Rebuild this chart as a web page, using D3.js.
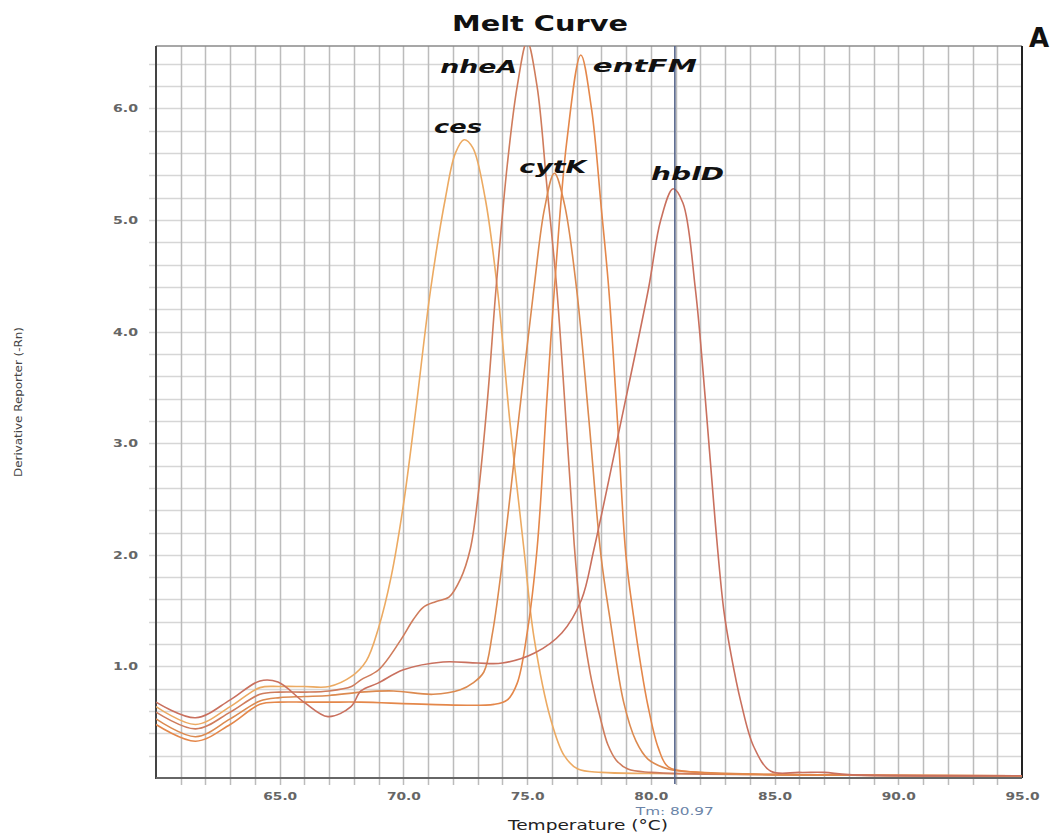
<html>
<head>
  <script src="https://cdn.jsdelivr.net/npm/d3@7"></script>
  <meta charset="UTF-8">
  <style>
  body { margin: 0; background: #fff; }
  svg { display: block; }
  </style>
</head>
<body>
<div id="chart"></div>
<script>

// melt curve data (temperature in °C, derivative reporter)
const genes = ['ces', 'nheA', 'cytK', 'entFM', 'hblD'];

const cesT = [60, 61.6, 63, 64.2, 65, 66, 67, 67.9, 68.5, 69, 69.5, 70.0, 70.5, 71.1, 71.7, 72.1, 72.45, 72.8, 73.3, 73.8, 74.3, 74.87, 75.27, 75.96, 76.5, 77.05, 78, 80, 85, 95];
const cesV = [0.64, 0.48, 0.64, 0.81, 0.82, 0.82, 0.82, 0.91, 1.05, 1.35, 1.8, 2.45, 3.3, 4.38, 5.2, 5.6, 5.72, 5.65, 5.2, 4.38, 3.2, 2.05, 1.27, 0.52, 0.2, 0.08, 0.05, 0.04, 0.03, 0.02];

const nheAT = [60, 61.6, 63, 64.2, 65, 66, 67, 67.9, 68.28, 69, 69.9, 70.4, 70.8, 71.3, 71.84, 72.3, 72.7, 73.0, 73.4, 73.74, 74.2, 74.6, 75.0, 75.4, 75.8, 76.2, 76.6, 76.9, 77.1, 77.35, 77.6, 78.0, 78.26, 78.6, 79.07, 80, 85, 95];
const nheAV = [0.59, 0.44, 0.59, 0.75, 0.77, 0.77, 0.78, 0.82, 0.88, 0.97, 1.24, 1.42, 1.53, 1.58, 1.62, 1.78, 2.05, 2.5, 3.4, 4.38, 5.5, 6.2, 6.6, 6.2, 5.3, 4.38, 3.1, 2.1, 1.6, 1.2, 0.88, 0.5, 0.3, 0.16, 0.08, 0.05, 0.03, 0.02];

const cytKT = [60, 61.6, 63, 64.2, 65, 66, 67, 68.28, 69.6, 71.2, 72.3, 72.8, 73.25, 73.6, 74.06, 74.7, 75.27, 75.7, 76.1, 76.5, 77.0, 77.5, 77.98, 78.38, 78.9, 79.4, 79.88, 80.7, 82, 85, 95];
const cytKV = [0.53, 0.37, 0.53, 0.69, 0.72, 0.73, 0.74, 0.77, 0.78, 0.75, 0.79, 0.85, 0.95, 1.3, 2.05, 3.3, 4.38, 5.1, 5.42, 5.15, 4.38, 3.2, 2.0, 1.38, 0.68, 0.33, 0.17, 0.08, 0.05, 0.03, 0.02];

const entFMT = [60, 61.6, 63, 64.2, 65, 66, 67, 68.28, 71.0, 73.66, 74.2, 74.6, 75.0, 75.4, 75.8, 76.1, 76.6, 77.17, 77.6, 78.0, 78.3, 78.65, 78.99, 79.3, 79.6, 79.88, 80.3, 80.7, 82, 85, 95];
const entFMV = [0.48, 0.33, 0.48, 0.66, 0.68, 0.68, 0.68, 0.68, 0.66, 0.66, 0.7, 0.85, 1.3, 2.05, 3.4, 4.38, 5.7, 6.48, 6.0, 5.1, 4.38, 3.2, 2.0, 1.45, 1.0, 0.65, 0.27, 0.1, 0.05, 0.03, 0.02];

const hblDT = [60, 61.6, 63, 64.2, 64.93, 65.98, 66.95, 67.88, 68.28, 68.97, 70.0, 71.6, 73.0, 74.0, 75.3, 76.4, 77.2, 77.7, 78.8, 79.9, 80.4, 80.9, 81.3, 81.8, 82.2, 82.6, 82.95, 83.23, 83.64, 84.16, 84.85, 86, 87, 88, 95];
const hblDV = [0.68, 0.54, 0.7, 0.87, 0.86, 0.68, 0.55, 0.64, 0.78, 0.85, 0.97, 1.04, 1.03, 1.03, 1.12, 1.3, 1.6, 2.05, 3.2, 4.38, 5.0, 5.28, 5.15, 4.38, 3.4, 2.3, 1.5, 1.12, 0.68, 0.28, 0.06, 0.05, 0.05, 0.03, 0.02];

const seriesT = [cesT, nheAT, cytKT, entFMT, hblDT];
const seriesV = [cesV, nheAV, cytKV, entFMV, hblDV];
const colors = ['#ecaa62', '#cf7c5c', '#dc8a50', '#e4874a', '#c9705e'];

const xTicks = [65, 70, 75, 80, 85, 90, 95];
const yTicks = [1, 2, 3, 4, 5, 6];
const tm = 80.97;

const W = 1063, H = 835;
const pLeft = 156, pRight = 1022, pTop = 46, pBottom = 778;

const x = d3.scaleLinear().domain([60, 95]).range([pLeft, pRight]);
const y = d3.scaleLinear().domain([0, 6.56]).range([pBottom, pTop]);

const svg = d3.select('#chart').append('svg')
  .attr('width', W)
  .attr('height', H);

svg.append('defs').append('clipPath').attr('id', 'plotClip')
  .append('rect')
    .attr('x', pLeft).attr('y', pTop)
    .attr('width', pRight - pLeft).attr('height', pBottom - pTop);

// grid
svg.append('g').selectAll('line')
  .data(d3.range(0.2, 6.5, 0.2))
  .join('line')
    .attr('x1', pLeft - 7).attr('x2', pRight)
    .attr('y1', d => Math.round(y(d)) + 0.5).attr('y2', d => Math.round(y(d)) + 0.5)
    .attr('stroke', '#d6d6d6')
    .attr('stroke-width', 1.5);

svg.append('g').selectAll('line')
  .data(d3.range(61, 95, 1))
  .join('line')
    .attr('x1', d => Math.round(x(d)) + 0.5).attr('x2', d => Math.round(x(d)) + 0.5)
    .attr('y1', pTop).attr('y2', pBottom + 7)
    .attr('stroke', '#bcbcbc')
    .attr('stroke-width', 1.5);

// frame
svg.append('line').attr('x1', pLeft).attr('x2', pRight).attr('y1', pTop).attr('y2', pTop)
  .attr('stroke', '#8a8a8a').attr('stroke-width', 1.5);
svg.append('line').attr('x1', pRight).attr('x2', pRight).attr('y1', pTop).attr('y2', pBottom)
  .attr('stroke', '#222').attr('stroke-width', 2);
svg.append('line').attr('x1', pLeft).attr('x2', pLeft).attr('y1', pTop).attr('y2', pBottom + 1)
  .attr('stroke', '#444').attr('stroke-width', 2);
svg.append('line').attr('x1', pLeft).attr('x2', pRight).attr('y1', pBottom).attr('y2', pBottom)
  .attr('stroke', '#666').attr('stroke-width', 2);

// curves
const line = d3.line()
  .x(d => x(d[0]))
  .y(d => y(d[1]))
  .curve(d3.curveCatmullRom.alpha(0.5));

const curves = svg.append('g').attr('clip-path', 'url(#plotClip)');
genes.forEach((g, i) => {
  const pts = seriesT[i].map((t, j) => [t, seriesV[i][j]]);
  curves.append('path')
    .datum(pts)
    .attr('fill', 'none')
    .attr('stroke', colors[i])
    .attr('stroke-width', 1.6)
    .attr('d', line);
});

// Tm marker
svg.append('line')
  .attr('x1', x(tm)).attr('x2', x(tm))
  .attr('y1', pTop).attr('y2', pBottom + 6)
  .attr('stroke', '#4f5f86')
  .attr('stroke-width', 1.5);

// axes labels
const xAxis = svg.append('g')
  .attr('transform', `translate(0,${pBottom})`)
  .call(d3.axisBottom(x).tickValues(xTicks).tickSize(0).tickFormat(d3.format('.1f')));
xAxis.select('.domain').remove();
xAxis.selectAll('text')
  .attr('y', 22)
  .attr('dy', 0)
  .attr('fill', '#666')
  .style('font', 'bold 10px "DejaVu Sans"')
  .attr('textLength', 34)
  .attr('lengthAdjust', 'spacingAndGlyphs');

const yAxis = svg.append('g')
  .attr('transform', `translate(${pLeft},0)`)
  .call(d3.axisLeft(y).tickValues(yTicks).tickSize(0).tickFormat(d3.format('.1f')));
yAxis.select('.domain').remove();
yAxis.selectAll('text')
  .attr('x', -18)
  .attr('dy', '0.35em')
  .attr('fill', '#666')
  .style('font', 'bold 10px "DejaVu Sans"')
  .attr('textLength', 25)
  .attr('lengthAdjust', 'spacingAndGlyphs');

// titles
svg.append('text')
  .attr('x', 452).attr('y', 31)
  .style('font', 'bold 22px "DejaVu Sans"')
  .attr('fill', '#111')
  .attr('textLength', 176)
  .attr('lengthAdjust', 'spacingAndGlyphs')
  .text('Melt Curve');

svg.append('text')
  .attr('x', 1029).attr('y', 47)
  .style('font', 'bold 26px "DejaVu Sans"')
  .attr('fill', '#111')
  .text('A');

svg.append('text')
  .attr('x', 508).attr('y', 830)
  .style('font', '14px "DejaVu Sans"')
  .attr('fill', '#222')
  .attr('textLength', 160)
  .attr('lengthAdjust', 'spacingAndGlyphs')
  .text('Temperature (°C)');

svg.append('text')
  .attr('x', x(tm)).attr('y', 815)
  .attr('text-anchor', 'middle')
  .style('font', '11px "DejaVu Sans"')
  .attr('fill', '#6b84a8')
  .attr('textLength', 78)
  .attr('lengthAdjust', 'spacingAndGlyphs')
  .text('Tm: ' + tm.toFixed(2));

svg.append('text')
  .attr('transform', 'translate(22,402) rotate(-90)')
  .attr('text-anchor', 'middle')
  .style('font', '11px "DejaVu Sans"')
  .attr('fill', '#444')
  .attr('textLength', 150)
  .attr('lengthAdjust', 'spacingAndGlyphs')
  .text('Derivative Reporter (-Rn)');

// gene labels, placed relative to each curve's peak
const labelOffsets = {
  ces:   { dx: -30, dy: -7,  len: 48 },
  nheA:  { dx: -87, dy: 27,  len: 77 },
  cytK:  { dx: -35, dy: 0,   len: 67 },
  entFM: { dx: 12,  dy: 17,  len: 104 },
  hblD:  { dx: -22, dy: -9,  len: 73 }
};
genes.forEach((g, i) => {
  const k = d3.maxIndex(seriesV[i]);
  const o = labelOffsets[g];
  svg.append('text')
    .attr('x', x(seriesT[i][k]) + o.dx)
    .attr('y', Math.max(y(seriesV[i][k]), pTop) + o.dy)
    .style('font', 'italic bold 18px "DejaVu Sans"')
    .attr('fill', '#111')
    .attr('textLength', o.len)
    .attr('lengthAdjust', 'spacingAndGlyphs')
    .text(g);
});

</script>
</body>
</html>
